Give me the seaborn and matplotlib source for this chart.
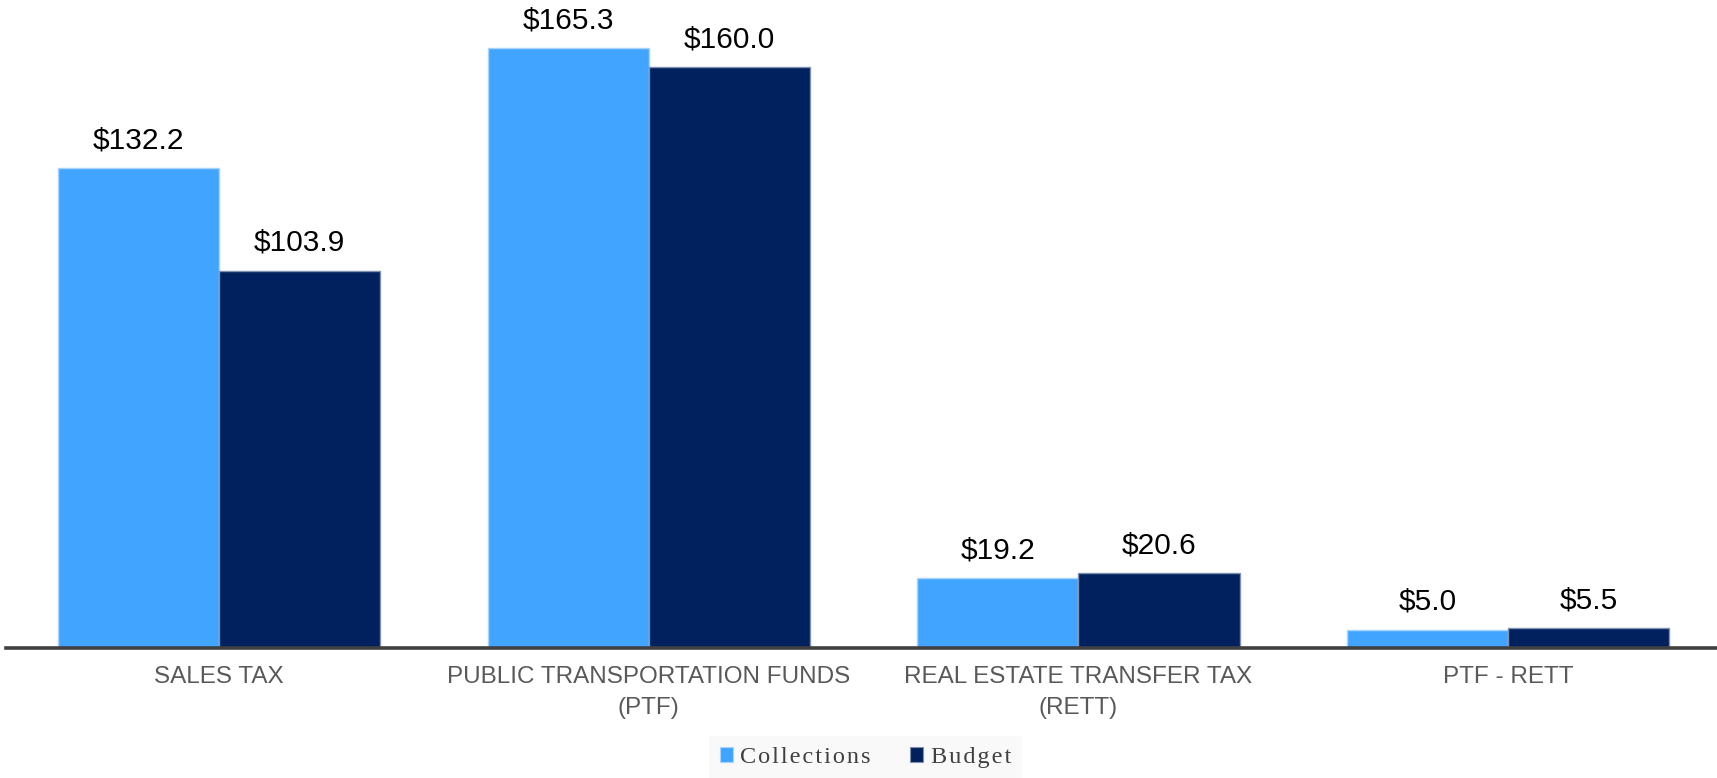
import pandas as pd
import matplotlib
matplotlib.use('Agg')
import matplotlib.pyplot as plt
import seaborn as sns

categorias = ['SALES TAX', 'PUBLIC TRANSPORTATION FUNDS\n(PTF)',
              'REAL ESTATE TRANSFER TAX\n(RETT)', 'PTF - RETT']
collections = [132.2, 165.3, 19.2, 5.0]
budget = [103.9, 160.0, 20.6, 5.5]
series = ['Collections', 'Budget']
cores = {'Collections': '#41A5FF', 'Budget': '#00215D'}
bordas = {'Collections': '#A8D4FF', 'Budget': '#8090B0'}

df = pd.DataFrame({
    'categoria': categorias * 2,
    'valor': collections + budget,
    'serie': [series[0]] * len(categorias) + [series[1]] * len(categorias),
})

sns.set_style('white')
plt.rcParams['font.family'] = ['Liberation Sans', 'DejaVu Sans']

fig = plt.figure(figsize=(17.17, 7.78), dpi=100)
ax = fig.add_axes([6 / 1717, 130 / 778, 1711 / 1717, 648 / 778])

sns.barplot(data=df, x='categoria', y='valor', hue='serie', palette=cores,
            width=0.75, saturation=1, ax=ax, legend=False)

for cont, s in zip(ax.containers, series):
    for barra in cont:
        barra.set_edgecolor(bordas[s])
        barra.set_linewidth(1)
    ax.bar_label(cont, labels=[f'${v:.1f}' for v in cont.datavalues],
                 padding=10, fontsize=21.5, color='black')

ax.set_xlim(-0.496, 3.486)
ax.set_ylim(0, 178.5)
ax.set_xlabel('')
ax.set_ylabel('')
ax.set_yticks([])
for lado in ['top', 'right', 'left']:
    ax.spines[lado].set_visible(False)
ax.spines['bottom'].set_color('#404040')
ax.spines['bottom'].set_linewidth(2.6)
ax.tick_params(axis='x', length=0, pad=13, labelsize=17.5, labelcolor='#595959')
for rot in ax.get_xticklabels():
    rot.set_linespacing(1.5)

# espacamento entre letras como no original
rotulos = ['\u200a'.join(s) for s in series]
handles = [plt.Rectangle((0, 0), 1, 1, facecolor=cores[s], edgecolor=bordas[s], linewidth=0.8)
           for s in series]
leg = fig.legend(handles, rotulos, loc='center', bbox_to_anchor=(0.504, 0.026),
                 ncol=2, frameon=True, facecolor='#F8F8F8', edgecolor='none',
                 fancybox=False, handlelength=0.55, handleheight=0.55,
                 handletextpad=0.3, columnspacing=1.6, borderpad=0.45,
                 prop={'family': ['Liberation Serif', 'DejaVu Serif'], 'size': 17.5})
for t in leg.get_texts():
    t.set_color('#404040')

fig.savefig('out.png', dpi=100)
